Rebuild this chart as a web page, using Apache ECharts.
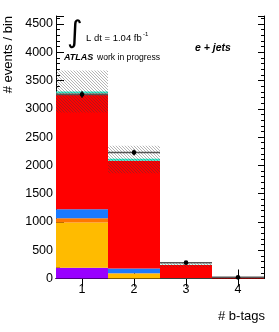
<!DOCTYPE html>
<html><head><meta charset="utf-8">
<script src="https://cdn.jsdelivr.net/npm/echarts@6/dist/echarts.min.js"></script>
<style>html,body{margin:0;padding:0;background:#fff}#c{width:279px;height:332px}</style>
</head><body><div id="c"></div>
<script>
var categories = ['1', '2', '3', '4'];
var purple = [191, 2, 0, 0];
var yellow = [797, 85, 3, 0];
var orange = [77, 5, 0, 0];
var blue = [160, 83, 5, 0];
var red = [2046, 1907, 231, 8];
var cyan = [35, 35, 5, 1];
var uncLow = [2936, 1862, 200, 0];
var uncHigh = [3676, 2345, 287, 15];
var dataVals = [3253, 2227, 280, 20];
var yTicks = [0, 500, 1000, 1500, 2000, 2500, 3000, 3500, 4000, 4500];

var FONT = 'Liberation Sans, Arial, sans-serif';

function hatchPattern() {
  var c = document.createElement('canvas');
  c.width = 6; c.height = 6;
  var g = c.getContext('2d');
  g.strokeStyle = 'rgba(60,60,60,0.38)';
  g.lineWidth = 1;
  g.beginPath();
  for (var k = -6; k <= 12; k += 3) { g.moveTo(k, 0); g.lineTo(k + 6, 6); }
  g.stroke();
  return {image: c, repeat: 'repeat'};
}

var chart = echarts.init(document.getElementById('c'), null, {renderer: 'canvas'});
var stackNames = [['purple', purple, '#9900ff'], ['yellow', yellow, '#ffbb00'], ['orange', orange, '#ff7700'],
                  ['blue', blue, '#1a7aff'], ['red', red, '#ff0000'], ['cyan', cyan, '#33eecc']];
var series = stackNames.map(function (s) {
  return {name: s[0], type: 'bar', stack: 'mc', data: s[1], barWidth: '100%', barGap: '-100%', barCategoryGap: '0%',
          itemStyle: {color: s[2]}, silent: true, animation: false};
});
series.push({type: 'bar', stack: 'unc', data: uncLow, barWidth: '100%', barGap: '-100%',
             itemStyle: {color: 'rgba(0,0,0,0)'}, silent: true, animation: false});
series.push({type: 'bar', stack: 'unc', data: uncHigh.map(function (v, i) { return v - uncLow[i]; }), barWidth: '100%', barGap: '-100%',
             itemStyle: {color: hatchPattern()}, silent: true, animation: false});
series.push({
  type: 'custom', animation: false, silent: true, z: 10,
  data: dataVals.map(function (v, i) { return [i, v, Math.sqrt(v)]; }),
  renderItem: function (params, api) {
    var x = api.value(0), y = api.value(1), e = api.value(2);
    var p = api.coord([x, y]);
    var w = api.size([1, 0])[0];
    var t = api.coord([x, y + e]), b = api.coord([x, y - e]);
    return {type: 'group', children: [
      {type: 'line', shape: {x1: p[0] - w / 2, y1: p[1], x2: p[0] + w / 2, y2: p[1]}, style: {stroke: '#555', lineWidth: 1.5}},
      {type: 'line', shape: {x1: p[0], y1: t[1], x2: p[0], y2: b[1]}, style: {stroke: '#000', lineWidth: 1.5}},
      {type: 'circle', shape: {cx: p[0], cy: p[1], r: 2.3}, style: {fill: '#000'}}
    ]};
  }
});

var yMax = 4640;
chart.setOption({
  animation: false,
  textStyle: {fontFamily: FONT},
  grid: {left: 56, right: 15, top: 16, bottom: 53.5},
  xAxis: [
    {type: 'category', data: categories, position: 'bottom',
     axisLine: {show: true, lineStyle: {color: '#000', width: 1}},
     axisTick: {show: true, inside: true, alignWithLabel: true, length: 9, lineStyle: {color: '#000'}},
     axisLabel: {color: '#000', fontSize: 12.5, margin: 5, fontFamily: FONT},
     splitLine: {show: false}},
    {type: 'category', data: categories, position: 'top',
     axisLine: {show: true, lineStyle: {color: '#000', width: 1}},
     axisTick: {show: true, inside: true, alignWithLabel: true, length: 8, lineStyle: {color: '#000'}},
     axisLabel: {show: false}, splitLine: {show: false}}
  ],
  yAxis: [
    {type: 'value', min: 0, max: yMax, interval: 500, position: 'left',
     axisLine: {show: true, lineStyle: {color: '#000', width: 1}},
     axisTick: {show: true, inside: true, length: 8, lineStyle: {color: '#000'}},
     minorTick: {show: true, splitNumber: 5, length: 4, lineStyle: {color: '#000'}},
     axisLabel: {color: '#000', fontSize: 12.5, margin: 3, fontFamily: FONT, showMaxLabel: false,
                 formatter: function (v) { return yTicks.indexOf(v) >= 0 ? String(v) : ''; }},
     splitLine: {show: false}, minorSplitLine: {show: false}},
    {type: 'value', min: 0, max: yMax, interval: 500, position: 'right',
     axisLine: {show: true, lineStyle: {color: '#000', width: 1}},
     axisTick: {show: true, inside: true, length: 6, lineStyle: {color: '#000'}},
     minorTick: {show: true, splitNumber: 5, length: 3, lineStyle: {color: '#000'}},
     axisLabel: {show: false}, splitLine: {show: false}}
  ],
  graphic: [
    {type: 'text', x: 15, y: 16, rotation: Math.PI / 2, style: {text: '# events / bin', font: '13px ' + FONT, fill: '#000', align: 'right', verticalAlign: 'bottom'}},
    {type: 'text', x: 265, y: 316, style: {text: '# b-tags', font: '13px ' + FONT, fill: '#000', align: 'right', verticalAlign: 'middle'}},
    {type: 'text', x: 67, y: 34, style: {text: '\u222B', font: '30px DejaVu Sans', fill: '#000', align: 'left', verticalAlign: 'middle'}},
    {type: 'text', x: 86, y: 38.5, style: {text: 'L dt = 1.04 fb', font: '9.5px ' + FONT, fill: '#000', align: 'left', verticalAlign: 'middle'}},
    {type: 'text', x: 143, y: 34, style: {text: '-1', font: '6px ' + FONT, fill: '#000', align: 'left', verticalAlign: 'middle'}},
    {type: 'text', x: 64, y: 57.5, style: {text: 'ATLAS', font: 'italic bold 9px ' + FONT, fill: '#000', align: 'left', verticalAlign: 'middle'}},
    {type: 'text', x: 97, y: 57.5, style: {text: 'work in progress', font: '8.6px ' + FONT, fill: '#000', align: 'left', verticalAlign: 'middle'}},
    {type: 'text', x: 195, y: 48.5, style: {text: 'e + jets', font: 'italic bold 10.5px ' + FONT, fill: '#000', align: 'left', verticalAlign: 'middle'}}
  ],
  series: series
});
</script></body></html>
